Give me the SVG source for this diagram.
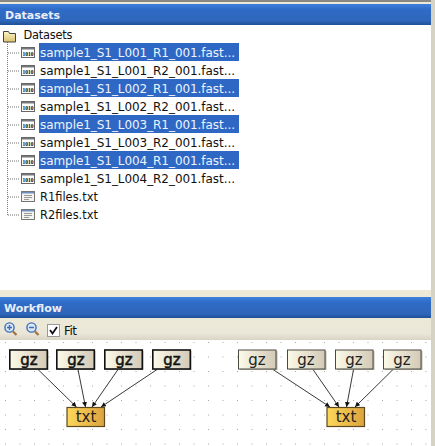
<svg xmlns="http://www.w3.org/2000/svg" width="435" height="446" viewBox="0 0 435 446">
<defs>
<linearGradient id="hdr" x1="0" y1="0" x2="0" y2="1"><stop offset="0" stop-color="#3f7fdc"/><stop offset="0.25" stop-color="#2f6cc8"/><stop offset="0.8" stop-color="#2e66b9"/><stop offset="1" stop-color="#1f4f96"/></linearGradient>
<linearGradient id="tb" x1="0" y1="0" x2="0" y2="1"><stop offset="0" stop-color="#ece9d8"/><stop offset="0.7" stop-color="#ebe7d8"/><stop offset="1" stop-color="#d8d5c6"/></linearGradient>
<linearGradient id="gz" x1="0" y1="0" x2="1" y2="0"><stop offset="0" stop-color="#fbfae8"/><stop offset="1" stop-color="#d3c9b6"/></linearGradient>
<linearGradient id="txt" x1="0" y1="0" x2="1" y2="0"><stop offset="0" stop-color="#fcd85a"/><stop offset="1" stop-color="#dda33e"/></linearGradient>
<linearGradient id="fold" x1="0" y1="0" x2="0" y2="1"><stop offset="0" stop-color="#fdf6c8"/><stop offset="1" stop-color="#d9c26c"/></linearGradient>
<marker id="ah" markerWidth="6" markerHeight="6" refX="5" refY="2.500" orient="auto" markerUnits="userSpaceOnUse"><path d="M0 0L5 2.500L0 5z" fill="#111"/></marker>
<g id="bin"><rect x="0.500" y="0.500" width="13" height="10" fill="#fff" stroke="#666"/><rect x="1" y="1" width="12" height="1.500" fill="#77797f"/><text x="7" y="8.600" text-anchor="middle" style="font:bold 5.500px 'Liberation Serif',serif;fill:#000">1010</text></g>
<g id="doc"><rect x="0.500" y="0.500" width="13" height="10" fill="#f4f3ee" stroke="#777"/><rect x="1" y="1" width="12" height="1.500" fill="#6d8fc4"/><path d="M3 4.500h8M3 6.500h8M3 8.500h5" stroke="#999" stroke-width="1" fill="none"/></g>
</defs>
<style>
.h{font:bold 11px "DejaVu Sans",sans-serif;fill:#e8eefa}
.r{font:12px "DejaVu Sans",sans-serif;fill:#111}
.t{font:11.400px "DejaVu Sans",sans-serif;fill:#111}
.s{font:12px "DejaVu Sans",sans-serif;fill:#eef3fc}
.sel{fill:#2e68c4}
.tree{stroke:#777;stroke-width:1;stroke-dasharray:1 1;fill:none}
.gzb{fill:url(#gz);stroke:#111;stroke-width:1.600}
.gzl{fill:url(#gz);stroke:#4a4a42;stroke-width:1}
.txb{fill:url(#txt);stroke:#5c4a1e;stroke-width:1.200}
.lb{font:15px "DejaVu Sans",sans-serif;text-anchor:middle;fill:#222}
.lbb{font:15px "DejaVu Sans",sans-serif;text-anchor:middle;fill:#111;stroke:#111;stroke-width:.5}
.shadow{fill:#9a978c;opacity:.7}
.c{stroke:#222;stroke-width:.9;fill:none;marker-end:url(#ah)}
</style>
<rect width="435" height="446" fill="#ece9d8"/>
<rect width="435" height="2" fill="#8a8880"/>
<rect x="431" y="0" width="4" height="446" fill="#d6d3c4"/>
<rect x="0" y="4" width="431" height="21" fill="url(#hdr)"/>
<text class="h" x="5" y="19">Datasets</text>
<rect x="0" y="25" width="431" height="265" fill="#fff"/>

<g id="tree-lines"><path class="tree" d="M7.500 42V215M8 53H20M8 71H20M8 89H20M8 107H20M8 125H20M8 143H20M8 161H20M8 179H20M8 197H20M8 215H20"/></g>

<g id="root"><path d="M3.500 31.500h5l1 2h6v8.500h-12z" fill="url(#fold)" stroke="#444"/><text class="t" x="23.500" y="39" textLength="49">Datasets</text></g>
<g id="row1"><rect class="sel" x="39" y="43" width="200" height="18"/><use href="#bin" x="21" y="47"/><text class="s" x="40" y="57" textLength="195">sample1_S1_L001_R1_001.fast...</text></g>
<g id="row2"><use href="#bin" x="21" y="65"/><text class="r" x="40" y="75" textLength="195">sample1_S1_L001_R2_001.fast...</text></g>
<g id="row3"><rect class="sel" x="39" y="79" width="200" height="18"/><use href="#bin" x="21" y="83"/><text class="s" x="40" y="93" textLength="195">sample1_S1_L002_R1_001.fast...</text></g>
<g id="row4"><use href="#bin" x="21" y="101"/><text class="r" x="40" y="111" textLength="195">sample1_S1_L002_R2_001.fast...</text></g>
<g id="row5"><rect class="sel" x="39" y="115" width="200" height="18"/><use href="#bin" x="21" y="119"/><text class="s" x="40" y="129" textLength="195">sample1_S1_L003_R1_001.fast...</text></g>
<g id="row6"><use href="#bin" x="21" y="137"/><text class="r" x="40" y="147" textLength="195">sample1_S1_L003_R2_001.fast...</text></g>
<g id="row7"><rect class="sel" x="39" y="151" width="200" height="18"/><use href="#bin" x="21" y="155"/><text class="s" x="40" y="165" textLength="195">sample1_S1_L004_R1_001.fast...</text></g>
<g id="row8"><use href="#bin" x="21" y="173"/><text class="r" x="40" y="183" textLength="195">sample1_S1_L004_R2_001.fast...</text></g>
<g id="row9"><use href="#doc" x="21" y="191"/><text class="t" x="40" y="201" textLength="58">R1files.txt</text></g>
<g id="row10"><use href="#doc" x="21" y="209"/><text class="t" x="40" y="219" textLength="58">R2files.txt</text></g>

<rect x="0" y="290" width="431" height="7" fill="#ece9d8"/>
<rect x="0" y="297" width="431" height="21" fill="url(#hdr)"/>
<text class="h" x="4" y="312">Workflow</text>
<rect x="0" y="318" width="431" height="22" fill="url(#tb)"/>
<g id="toolbar">
<g fill="none" stroke="#3b6fb8" stroke-width="1.400"><circle cx="9.500" cy="327.500" r="4.600" fill="#dbe7f7"/><circle cx="31.500" cy="327.500" r="4.600" fill="#dbe7f7"/><path d="M7 327.500h5M9.500 325v5M29 327.500h5"/></g>
<path d="M13 331.500l3.500 3.500M35 331.500l3.500 3.500" stroke="#a8703a" stroke-width="2.200"/>
<rect x="47.500" y="324.500" width="12" height="12" fill="#fff" stroke="#999"/>
<path d="M50 330l2.500 3.500L57 327" fill="none" stroke="#111" stroke-width="1.800"/>
<text x="64" y="335" style="font:12px 'DejaVu Sans',sans-serif;fill:#111" textLength="13">Fit</text>
</g>
<rect x="0" y="340" width="431" height="106" fill="#fff"/>
<path id="grid" d="M5 342.500H431M5 357H431M5 371.500H431M5 386H431M5 400.500H431M5 415H431M5 429.500H431M5 444H431" stroke="#a8a8a8" stroke-width="1" stroke-dasharray="1 13.500" fill="none"/>

<g id="connectors">
<path class="c" d="M38 369.500L76.500 407"/><path class="c" d="M78 369.500L85.500 407"/><path class="c" d="M118 369.500L92 407"/><path class="c" d="M157 369.500L101 407"/>
<path class="c" d="M273 369.500L330 407"/><path class="c" d="M313 369.500L339 407"/><path class="c" d="M353.500 369.500L346.500 407"/><path class="c" d="M393 369.500L355 407"/>
</g>
<g id="n1"><rect class="shadow" x="11" y="351" width="37.500" height="19"/><rect class="gzb" x="9.800" y="350" width="37.500" height="19"/><text class="lbb" x="29" y="365">gz</text></g>
<g id="n2"><rect class="shadow" x="58" y="351" width="37.500" height="19"/><rect class="gzb" x="56.800" y="350" width="37.500" height="19"/><text class="lbb" x="76" y="365">gz</text></g>
<g id="n3"><rect class="shadow" x="106" y="351" width="37.500" height="19"/><rect class="gzb" x="104.800" y="350" width="37.500" height="19"/><text class="lbb" x="124" y="365">gz</text></g>
<g id="n4"><rect class="shadow" x="154" y="351" width="37.500" height="19"/><rect class="gzb" x="152.800" y="350" width="37.500" height="19"/><text class="lbb" x="172" y="365">gz</text></g>
<g id="n5"><rect class="txb" x="67" y="407.500" width="37.500" height="19"/><text class="lb" x="86" y="422">txt</text></g>
<g id="n6"><rect class="shadow" x="240" y="351" width="37.500" height="19"/><rect class="gzl" x="238.500" y="350" width="37.500" height="19"/><text class="lb" x="257" y="365">gz</text></g>
<g id="n7"><rect class="shadow" x="289" y="351" width="37.500" height="19"/><rect class="gzl" x="287.500" y="350" width="37.500" height="19"/><text class="lb" x="306" y="365">gz</text></g>
<g id="n8"><rect class="shadow" x="337" y="351" width="37.500" height="19"/><rect class="gzl" x="335.500" y="350" width="37.500" height="19"/><text class="lb" x="354" y="365">gz</text></g>
<g id="n9"><rect class="shadow" x="385" y="351" width="37.500" height="19"/><rect class="gzl" x="383.500" y="350" width="37.500" height="19"/><text class="lb" x="402" y="365">gz</text></g>
<g id="n10"><rect class="txb" x="327" y="407.500" width="37.500" height="19"/><text class="lb" x="346" y="422">txt</text></g>
</svg>
